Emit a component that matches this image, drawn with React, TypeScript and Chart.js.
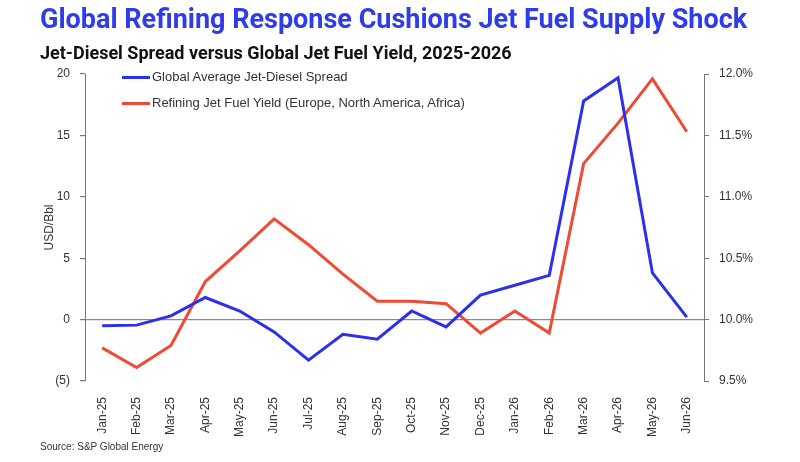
import React, { useEffect, useRef } from "react";
import { Chart, registerables } from "chart.js";

Chart.register(...registerables);

const categories = ["Jan-25","Feb-25","Mar-25","Apr-25","May-25","Jun-25","Jul-25","Aug-25","Sep-25","Oct-25","Nov-25","Dec-25","Jan-26","Feb-26","Mar-26","Apr-26","May-26","Jun-26"];
const spreadValues = [-0.5,-0.45,0.3,1.8,0.7,-1.0,-3.3,-1.2,-1.6,0.7,-0.6,2.0,2.8,3.6,17.8,19.7,3.8,0.2];
const yieldValues = [9.77,9.61,9.79,10.31,10.56,10.82,10.61,10.37,10.15,10.15,10.13,9.89,10.07,9.89,11.27,11.6,11.96,11.53];
const seriesNames = ["Global Average Jet-Diesel Spread","Refining Jet Fuel Yield (Europe, North America, Africa)"];

const BLUE = "#2b30ee";
const RED = "#ef4a34";
const TICK_FONT = "'Liberation Sans', Arial, sans-serif";

export default function App() {
  const ref = useRef<HTMLCanvasElement | null>(null);
  useEffect(() => {
    if (!ref.current) return;
    const chart = new Chart(ref.current, {
      type: "line",
      data: {
        labels: categories,
        datasets: [
          { label: seriesNames[0], data: spreadValues, borderColor: BLUE, borderWidth: 3, pointRadius: 0, yAxisID: "y", tension: 0 },
          { label: seriesNames[1], data: yieldValues, borderColor: RED, borderWidth: 3, pointRadius: 0, yAxisID: "y1", tension: 0 },
        ],
      },
      options: {
        animation: false,
        responsive: false,
        maintainAspectRatio: false,
        layout: { padding: { top: 74, left: 0, right: 0, bottom: 0 } },
        plugins: { legend: { display: false }, tooltip: { enabled: false } },
        scales: {
          x: {
            offset: true,
            grid: { display: false },
            border: { display: false },
            ticks: { maxRotation: 90, minRotation: 90, color: "#333", font: { family: TICK_FONT, size: 12 }, padding: 8, autoSkip: false },
            afterFit: (s: any) => { s.width = s.width; s.height = 81; },
          },
          y: {
            position: "left",
            min: -5, max: 20,
            ticks: { stepSize: 5, color: "#333", font: { family: TICK_FONT, size: 12 }, padding: 10,
              callback: (v: any) => (v < 0 ? `(${Math.abs(v)})` : `${v}`) },
            grid: { color: (c: any) => (c.tick && c.tick.value === 0 ? "#8a8a8a" : "rgba(0,0,0,0)"), tickColor: "#777", tickLength: 5, lineWidth: 1.2 },
            border: { display: true, color: "#777" },
            title: { display: true, text: "USD/Bbl", color: "#333", font: { family: TICK_FONT, size: 12 }, padding: { top: 42, bottom: 0 } },
            afterFit: (s: any) => { s.width = 85; },
          },
          y1: {
            position: "right",
            min: 9.5, max: 12,
            ticks: { stepSize: 0.5, color: "#333", font: { family: TICK_FONT, size: 12 }, padding: 10,
              callback: (v: any) => `${Number(v).toFixed(1)}%` },
            grid: { drawOnChartArea: false, tickColor: "#777", tickLength: 5 },
            border: { display: true, color: "#777" },
            afterFit: (s: any) => { s.width = 96; },
          },
        },
      },
    });
    return () => chart.destroy();
  }, []);

  return (
    <div style={{ position: "fixed", left: 0, top: 0, width: 800, height: 462, background: "#fff", overflow: "hidden" }}>
      <canvas ref={ref} width={800} height={462} style={{ position: "absolute", left: 0, top: 0, width: 800, height: 462 }} />
      <div style={{ position: "absolute", left: 40, top: 3, fontFamily: "Roboto, 'Liberation Sans', sans-serif", fontWeight: 700, fontSize: 27, color: "#2f3cea", whiteSpace: "nowrap" }}>
        Global Refining Response Cushions Jet Fuel Supply Shock
      </div>
      <div style={{ position: "absolute", left: 40, top: 42, fontFamily: "Roboto, 'Liberation Sans', sans-serif", fontWeight: 700, fontSize: 18, color: "#111", whiteSpace: "nowrap" }}>
        Jet-Diesel Spread versus Global Jet Fuel Yield, 2025-2026
      </div>
      <div style={{ position: "absolute", left: 122, top: 64, fontFamily: TICK_FONT, fontSize: 13, color: "#333", lineHeight: "26px" }}>
        <div style={{ display: "flex", alignItems: "center" }}>
          <span style={{ display: "inline-block", width: 28, height: 3, background: BLUE, marginRight: 2 }} />
          {seriesNames[0]}
        </div>
        <div style={{ display: "flex", alignItems: "center" }}>
          <span style={{ display: "inline-block", width: 28, height: 3, background: RED, marginRight: 2 }} />
          {seriesNames[1]}
        </div>
      </div>
      <div style={{ position: "absolute", left: 40, top: 441, fontFamily: TICK_FONT, fontSize: 10, color: "#333" }}>
        Source: S&amp;P Global Energy
      </div>
    </div>
  );
}
